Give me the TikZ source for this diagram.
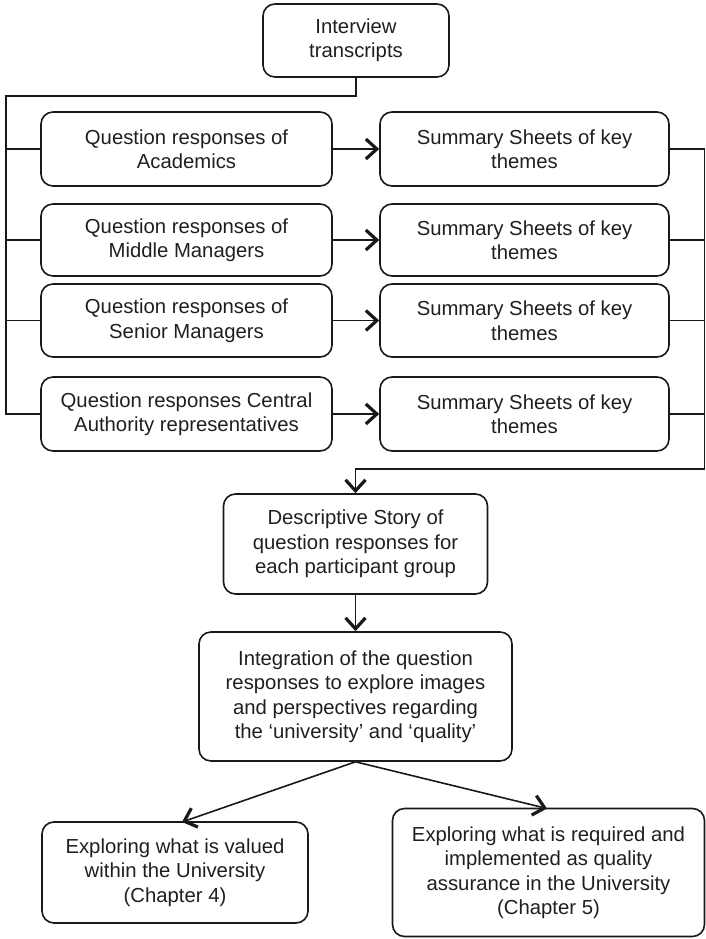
\documentclass[tikz,border=0pt]{standalone}
\usepackage{fontspec}
\setmainfont{Liberation Sans}
\usetikzlibrary{arrows.meta,calc}
\begin{document}
\begin{tikzpicture}[x=1pt,y=-1pt,
  box/.style={draw=black!90, line width=1.6pt, rounded corners=12pt, inner sep=0pt, align=center,
    font=\fontsize{20.3}{24.5}\selectfont, text=black!88},
  conn/.style={line width=1.6pt, draw=black!90},
  arr/.style={line width=1.6pt, draw=black!90, -{Straight Barb[length=11pt,width=20pt,line width=3.2pt]}}]
\useasboundingbox (0,0) rectangle (706,939);
\node[box, minimum width=186pt, minimum height=73pt] (it) at (356,40.5) {Interview\\transcripts};
\node[box, minimum width=291pt, minimum height=74pt] (q1) at (186.5,149) {Question responses of\\Academics};
\node[box, minimum width=291pt, minimum height=72pt] (q2) at (186.5,240) {Question responses of\\Middle Managers};
\node[box, minimum width=291pt, minimum height=73pt] (q3) at (186.5,320.5) {Question responses of\\Senior Managers};
\node[box, minimum width=291pt, minimum height=74pt] (q4) at (186.5,414) {Question responses Central\\Authority representatives};
\node[box, minimum width=289pt, minimum height=74pt] (s1) at (524.5,149) {Summary Sheets of key\\themes};
\node[box, minimum width=289pt, minimum height=72pt] (s2) at (524.5,240) {Summary Sheets of key\\themes};
\node[box, minimum width=289pt, minimum height=73pt] (s3) at (524.5,320.5) {Summary Sheets of key\\themes};
\node[box, minimum width=289pt, minimum height=74pt] (s4) at (524.5,414) {Summary Sheets of key\\themes};
\node[box, minimum width=264pt, minimum height=100pt] (ds) at (355.5,544) {Descriptive Story of\\question responses for\\each participant group};
\node[box, minimum width=313pt, minimum height=129pt] (ig) at (355.5,696.5) {Integration of the question\\responses to explore images\\and perspectives regarding\\the ‘university’ and ‘quality’};
\node[box, minimum width=266pt, minimum height=101pt] (e4) at (175,872.5) {Exploring what is valued\\within the University\\(Chapter 4)};
\node[box, minimum width=312pt, minimum height=128pt] (e5) at (548.5,872.5) {Exploring what is required and\\implemented as quality\\assurance in the University\\(Chapter 5)};
\coordinate (lt) at (6,96);
\coordinate (rb) at (704.5,469);
% left bus
\draw[conn] (it.south) -- (it.south |- lt) -- (lt) -- (lt |- q4.west) -- (q4.west);
\foreach \n in {q1,q2,q3} \draw[conn] (lt |- \n.west) -- (\n.west);
% arrows
\foreach \i in {1,2,3,4} \draw[arr] (q\i.east) -- (s\i.west);
% right bus
\draw[conn] (s1.east) -- (s1.east -| rb) -- (rb);
\foreach \n in {s2,s3,s4} \draw[conn] (\n.east) -- (\n.east -| rb);
\draw[arr] (rb) -- (rb -| ds.north) -- (ds.north);
\draw[arr] (ds.south) -- (ig.north);
\draw[arr] (ig.south) -- (182,822);
\draw[arr] (ig.south) -- (547,808.5);
\end{tikzpicture}
\end{document}
